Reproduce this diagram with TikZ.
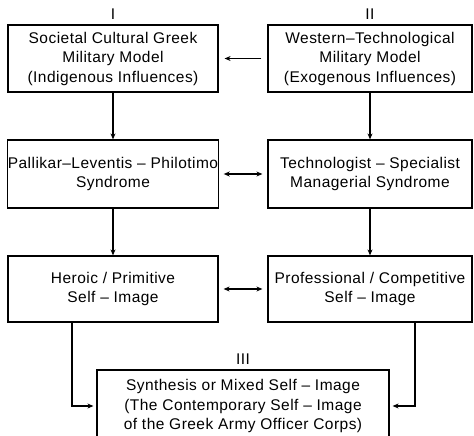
\documentclass[tikz,border=0pt]{standalone}
\usepackage{fontspec}
\setmainfont[LetterSpace=3]{Liberation Sans}
\usepackage{tikz}
\usetikzlibrary{arrows.meta, positioning}

\begin{document}
\begin{tikzpicture}[
    x=1pt, y=-1pt,
    >={Stealth[length=6pt,width=5pt]},
    every node/.style={font=\fontsize{15.5}{19.5}\selectfont},
    model/.style={draw, line width=1.2pt, align=center, inner sep=0pt,
                  minimum height=67pt},
    flow/.style={->, line width=1.1pt},
    link/.style={<->, line width=1.1pt, shorten >=5pt, shorten <=5pt}
  ]
  \useasboundingbox (0,0) rectangle (474,436);

  % Models
  \node[model, minimum width=210pt] (greek) at (113,58.5)
    {Societal Cultural Greek\\Military Model\\(Indigenous Influences)};
  \node[model, minimum width=204pt] (western) at (370,58.5)
    {Western--Technological\\Military Model\\(Exogenous Influences)};
  \node[above=1pt of greek] (lblI) {I};
  \node[above=1pt of western] (lblII) {II};

  % Syndromes
  \node[model, minimum width=210pt, minimum height=68pt] (pallikar) at (113,174)
    {Pallikar--Leventis -- Philotimo\\Syndrome};
  \node[model, minimum width=204pt, minimum height=68pt] (techno) at (370,174)
    {Technologist -- Specialist\\Managerial Syndrome};

  % Self-images
  \node[model, minimum width=210pt, minimum height=66pt] (heroic) at (113,289)
    {Heroic / Primitive\\Self -- Image};
  \node[model, minimum width=204pt, minimum height=66pt] (profess) at (370,289)
    {Professional / Competitive\\Self -- Image};

  % Synthesis
  \node[model, minimum width=292pt, minimum height=72pt] (synth) at (243,406)
    {Synthesis or Mixed Self -- Image\\(The Contemporary Self -- Image\\of the Greek Army Officer Corps)};
  \node[above=1pt of synth] (lblIII) {III};

  % Connectors
  \draw[flow, shorten <=6pt, shorten >=6pt] (western) -- (greek);
  \draw[flow] (greek) -- (pallikar);
  \draw[flow] (western) -- (techno);
  \draw[link] (pallikar) -- (techno);
  \draw[flow] (pallikar) -- (heroic);
  \draw[flow] (techno) -- (profess);
  \draw[link] (heroic) -- (profess);
  \draw[flow, shorten >=3pt] ([xshift=-41pt]heroic.south) |- (synth.west);
  \draw[flow, shorten >=3pt] ([xshift=45pt]profess.south) |- (synth.east);

\end{tikzpicture}
\end{document}
